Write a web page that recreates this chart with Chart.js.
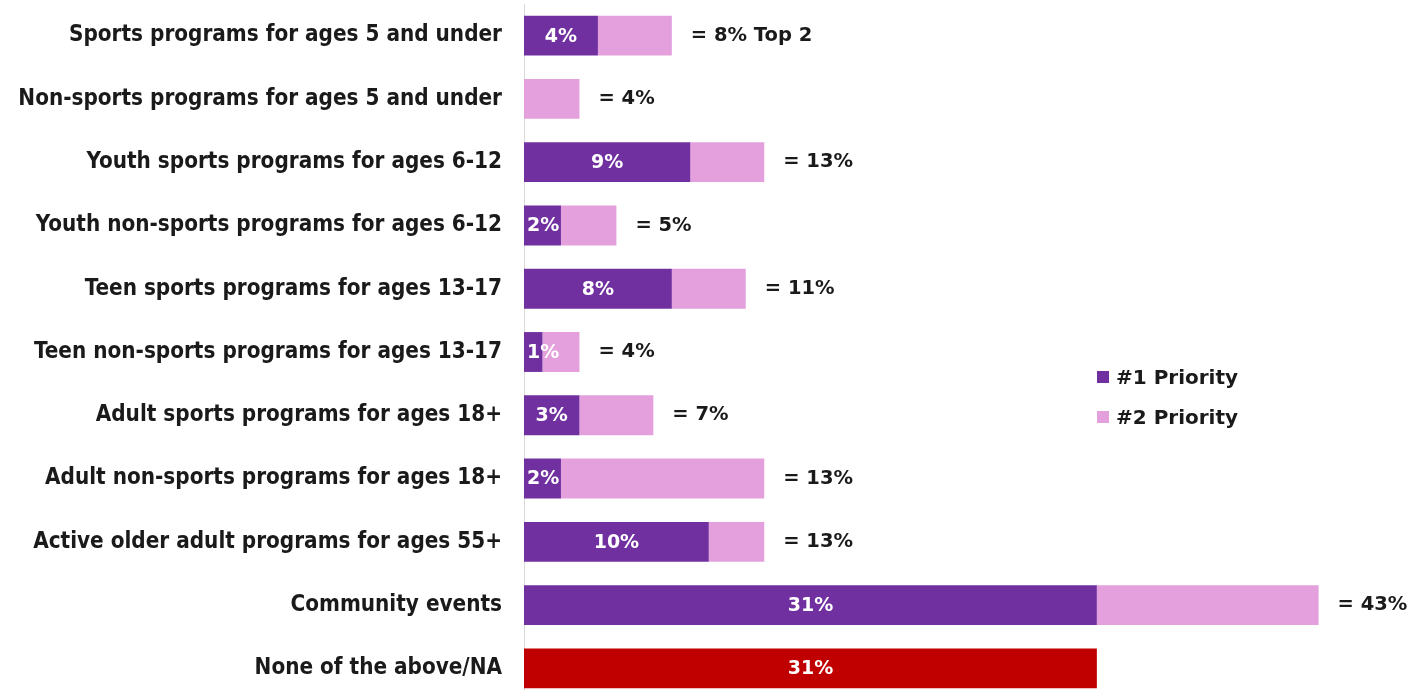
<!DOCTYPE html>
<html lang="en">
<head>
<meta charset="UTF-8">
<title>Program priorities</title>
<script src="https://cdn.jsdelivr.net/npm/chart.js@4.4.1/dist/chart.umd.min.js"></script>
<style>
  * { box-sizing: border-box; margin: 0; padding: 0; }
  html, body { width: 1420px; height: 690px; overflow: hidden; background: #fff; }
  .wrap { position: relative; width: 1420px; height: 700px; }
  .legend { position: absolute; left: 1097px; top: 357px; font: bold 20px "DejaVu Sans", sans-serif; color: #1a1a1a; }
  .legend-item { display: flex; align-items: center; height: 40px; }
  .legend-dot { width: 12px; height: 12px; margin-right: 7px; }
</style>
</head>
<body>
<div class="wrap">
  <canvas id="chart" width="1420" height="700"></canvas>
  <div class="legend">
    <div class="legend-item"><span class="legend-dot" style="background:#7030a0"></span>#1 Priority</div>
    <div class="legend-item"><span class="legend-dot" style="background:#e4a0dc"></span>#2 Priority</div>
  </div>
</div>
<script>
const categories = [
  'Sports programs for ages 5 and under',
  'Non-sports programs for ages 5 and under',
  'Youth sports programs for ages 6-12',
  'Youth non-sports programs for ages 6-12',
  'Teen sports programs for ages 13-17',
  'Teen non-sports programs for ages 13-17',
  'Adult sports programs for ages 18+',
  'Adult non-sports programs for ages 18+',
  'Active older adult programs for ages 55+',
  'Community events',
  'None of the above/NA'
];
const priority1 = [4, 0, 9, 2, 8, 1, 3, 2, 10, 31, 31];
const priority2 = [4, 3, 4, 3, 4, 2, 4, 11, 3, 12, 0];
const insideLabels = ['4%', '', '9%', '2%', '8%', '1%', '3%', '2%', '10%', '31%', '31%'];
const totalLabels = ['= 8% Top 2', '= 4%', '= 13%', '= 5%', '= 11%', '= 4%', '= 7%', '= 13%', '= 13%', '= 43%', ''];

const PURPLE = '#7030a0', PINK = '#e4a0dc', RED = '#c00000';

// draws the white % inside the #1 segment and the "= x%" total to the right
const labelPlugin = {
  id: 'barLabels',
  afterDatasetsDraw(chart) {
    const ctx = chart.ctx;
    const m1 = chart.getDatasetMeta(0).data;
    const m2 = chart.getDatasetMeta(1).data;
    ctx.save();
    ctx.textBaseline = 'middle';
    categories.forEach((c, i) => {
      const b1 = m1[i], b2 = m2[i];
      if (insideLabels[i]) {
        ctx.font = 'bold 19px "DejaVu Sans", sans-serif';
        ctx.fillStyle = '#fff';
        ctx.textAlign = 'center';
        const w = ctx.measureText(insideLabels[i]).width;
        const cx = Math.max((b1.base + b1.x) / 2, b1.base + w / 2 + 3);
        ctx.fillText(insideLabels[i], cx, b1.y + 1);
      }
      if (totalLabels[i]) {
        ctx.font = 'bold 19.5px "DejaVu Sans", sans-serif';
        ctx.fillStyle = '#1a1a1a';
        ctx.textAlign = 'left';
        const end = Math.max(b1.x, b2.x);
        ctx.fillText(totalLabels[i], end + 19, b2.y);
      }
    });
    ctx.restore();
  }
};

new Chart(document.getElementById('chart'), {
  type: 'bar',
  data: {
    labels: categories,
    datasets: [
      {
        label: '#1 Priority',
        data: priority1,
        backgroundColor: categories.map((c, i) => i === categories.length - 1 ? RED : PURPLE),
        borderWidth: 0,
        categoryPercentage: 1,
        barPercentage: 0.63
      },
      {
        label: '#2 Priority',
        data: priority2,
        backgroundColor: PINK,
        borderWidth: 0,
        categoryPercentage: 1,
        barPercentage: 0.63
      }
    ]
  },
  options: {
    indexAxis: 'y',
    responsive: false,
    animation: false,
    layout: { padding: { top: 4, right: 9, bottom: 0, left: 0 } },
    plugins: { legend: { display: false }, tooltip: { enabled: false } },
    scales: {
      x: { stacked: true, min: 0, max: 48, display: false },
      y: {
        stacked: true,
        grid: { display: false, drawTicks: false },
        border: { display: true, color: '#d9d9d9', width: 1 },
        ticks: {
          color: '#1a1a1a',
          padding: 22,
          font: { family: '"DejaVu Sans Condensed", "DejaVu Sans", sans-serif', weight: 'bold', size: 22.3 }
        },
        afterFit(scale) {
          scale.width = 524;
          scale.paddingTop = 0;
          scale.paddingBottom = 0;
        }
      }
    }
  },
  plugins: [labelPlugin]
});
</script>
</body>
</html>
